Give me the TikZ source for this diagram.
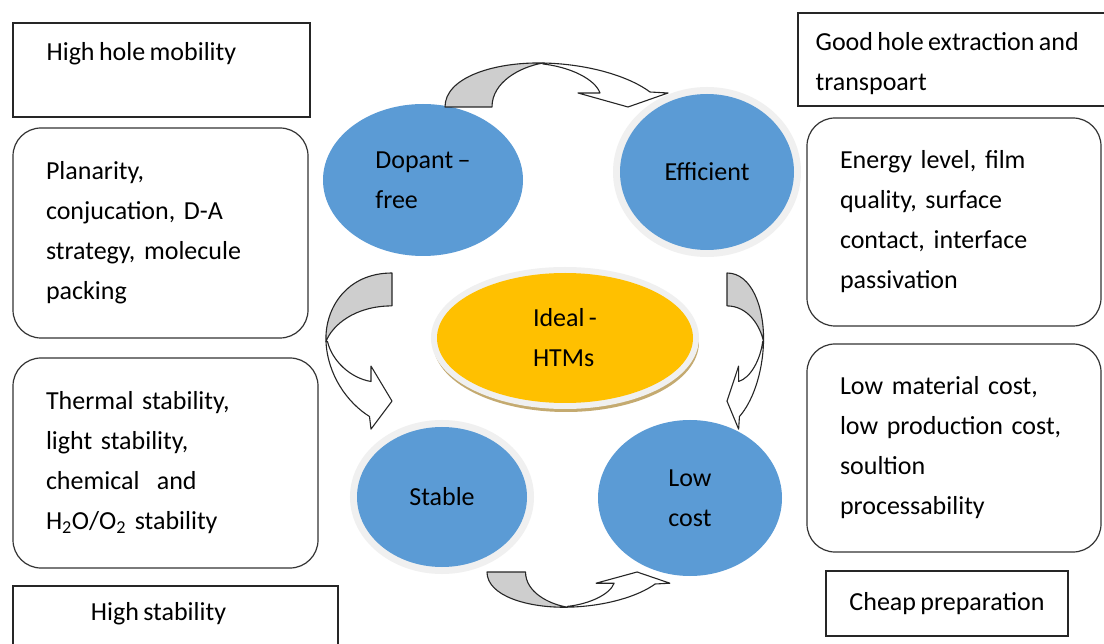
\documentclass[tikz,border=0pt]{standalone}
\usepackage{fontspec}
\setmainfont{Carlito}[WordSpace=0.75]
\usepackage{tikz}
\usetikzlibrary{shapes.geometric}
\definecolor{HTMBlue}{RGB}{91,155,213}
\definecolor{HTMGold}{RGB}{255,192,0}
\definecolor{HTMKhaki}{RGB}{196,170,112}
\definecolor{HTMGrey}{RGB}{206,206,206}

\newcommand{\htmarrow}[1]{%
\begin{scope}[#1]
\filldraw[bandline,fill=HTMGrey] (0,0) .. controls (0,-30) and (50,-45) .. (98,-44)
   .. controls (75,-40) and (47,-25) .. (47,0) -- cycle;
\filldraw[bandline,fill=white] (98,-44) .. controls (145,-43) and (185,-30) .. (205,-15)
   -- (223,-14) -- (183,0) -- (133,-14) -- (155,-14)
   .. controls (150,-28) and (125,-40) .. (98,-43) -- cycle;
\end{scope}}

\begin{document}
\begin{tikzpicture}[x=1pt,y=-1pt,
  every node/.style={font=\fontsize{26}{40}\selectfont,inner sep=0pt},
  prop/.style={ellipse,fill=HTMBlue,align=left},
  glow/.style={preaction={draw=black!6,line width=14pt}},
  ideal/.style={ellipse,fill=HTMGold,align=left,minimum width=256pt,minimum height=130pt,
    preaction={draw=HTMKhaki,line width=10pt,transform canvas={xshift=1pt,yshift=-4pt}},
    preaction={draw=black!6,line width=12pt}},
  note/.style n args={2}{draw=black!80,line width=1.2pt,rounded corners=28pt,text width=#1,
    minimum height=#2,inner xsep=33pt,align=left},
  tag/.style={draw=black!85,line width=1.2pt},
  bandline/.style={draw=black!85,line width=1.1pt,line join=round}]
\useasboundingbox (0,0) rectangle (1104,644);
\clip (0,0) rectangle (1104,644);
\fill[white] (0,0) rectangle (1104,644);

\node[tag,minimum width=297pt,minimum height=94pt] (mob) at (161.5,70) {};
\node[anchor=west] (mobtxt) at ([xshift=34pt,yshift=16pt]mob.west) {High hole mobility};
\node[tag,minimum width=322pt,minimum height=93pt] (extr) at (959,59.5) {};
\node[anchor=west,align=left] (extrtxt) at ([xshift=18pt,yshift=-4pt]extr.west) {Good hole extraction and\\transpoart};
\node[tag,minimum width=325pt,minimum height=94pt] (hstab) at (175.5,633) {};
\node (hstabtxt) at ([xshift=-17pt,yshift=19pt]hstab.center) {High stability};
\node[tag,minimum width=242pt,minimum height=65pt] (cheap) at (947,603.5) {Cheap preparation};

\node[note={229pt}{210pt}] (planar) at (160.5,233) {Planarity,\\conjucation, D-A\\strategy, molecule\\packing};
\node[note={239pt}{210pt}] (thermal) at (165.5,463) {Thermal stability,\\light stability,\\chemical\ \ and\\H\textsubscript{2}O/O\textsubscript{2} stability};
\node[note={228pt}{208pt}] (energy) at (954,222) {Energy level, film\\quality, surface\\contact, interface\\passivation};
\node[note={228pt}{208pt}] (cost) at (954,448) {Low material cost,\\low production cost,\\soultion\\processability};

\node[prop,minimum width=200pt,minimum height=152pt] (dopant) at (423,180) {Dopant –\\free};
\node[prop,glow,minimum width=174pt,minimum height=156pt] (eff) at (707,172) {Efficient};
\node[prop,glow,minimum width=170pt,minimum height=140pt] (stab) at (442,497) {Stable};
\node[prop,minimum width=184pt,minimum height=156pt] (low) at (690,498) {Low\\cost};
\node[ideal] (htm) at (565,338) {Ideal -\\HTMs};

\htmarrow{shift={(445,107)}}
\htmarrow{cm={0,-0.7,0.83,0,(727,273)}}
\htmarrow{shift={(487,572)},xscale=0.82,yscale=-0.8}
\htmarrow{cm={0,-0.7,-1.5,0,(392,273)}}
\end{tikzpicture}
\end{document}
